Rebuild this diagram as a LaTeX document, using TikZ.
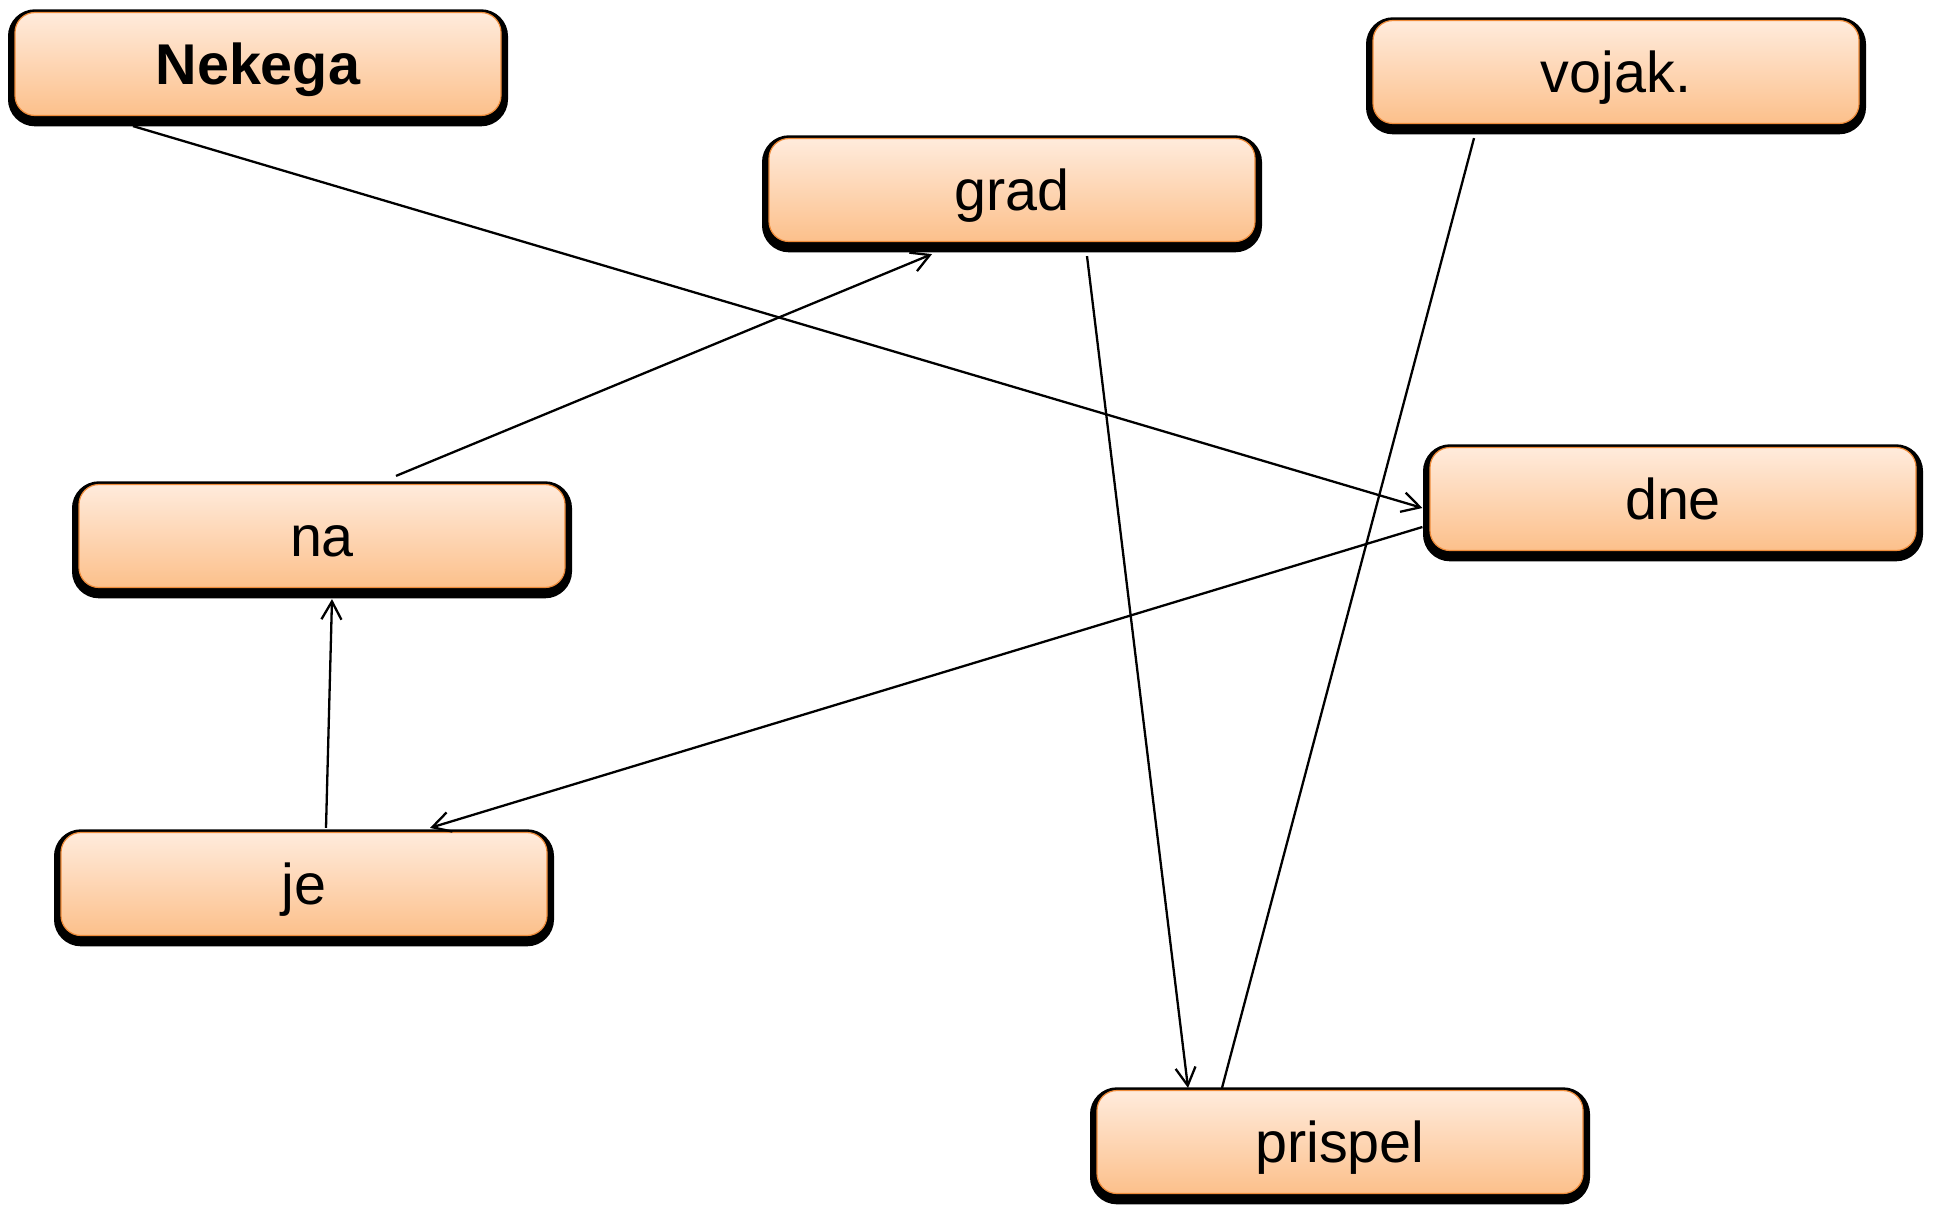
\documentclass[tikz,border=0pt]{standalone}
\usepackage{fontspec}
\setmainfont{Liberation Sans}
\usetikzlibrary{calc,arrows.meta}
\definecolor{otop}{HTML}{FFEBDC}
\definecolor{obot}{HTML}{FCC08B}
\definecolor{oborder}{HTML}{EE8B3A}
\begin{document}
\begin{tikzpicture}[x=0.5pt,y=-0.5pt,
  wordbox/.style={rounded corners=10pt, minimum width=243pt, minimum height=51.5pt,
    inner sep=0pt, text height=20.6pt, text depth=0pt,
    font=\fontsize{28.75pt}{30pt}\selectfont,
    top color=otop, bottom color=obot, draw=oborder, line width=0.6pt,
    preaction={draw=black, fill=black, line width=7pt, transform canvas={yshift=-1.9pt}}},
  link/.style={line width=1.15pt, draw=black},
  arr/.style={link, -{Straight Barb[length=9pt,width=10pt]}}]
\useasboundingbox (0,0) rectangle (1936,1204);
\node[wordbox] (Nekega)  at (258,64)    {\textbf{Nekega}};
\node[wordbox] (grad)    at (1012,190)  {grad};
\node[wordbox] (vojak)   at (1616,72)   {vojak.};
\node[wordbox] (na)      at (322,536)   {na};
\node[wordbox] (dne)     at (1673,499)  {dne};
\node[wordbox] (je)      at (304,884)   {je};
\node[wordbox] (prispel) at (1340,1142) {prispel};
\draw[arr]  ($(Nekega.south)+(-125,10)$) -- ($(dne.west)+(-7,9)$);
\draw[arr]  ($(na.north)+(74,-8)$) -- ($(grad.south)+(-80,12)$);
\draw[arr]  ($(grad.south)+(75,14)$) -- ($(prispel.north)+(-152,-2)$);
\draw[link] ($(vojak.south)+(-142,14)$) -- ($(prispel.north)+(-118,-2)$);
\draw[arr]  ($(dne.west)+(-7,28)$) -- ($(je.north)+(126,-4)$);
\draw[arr]  ($(je.north)+(22,-4)$) -- ($(na.south)+(10,11)$);
\end{tikzpicture}
\end{document}
